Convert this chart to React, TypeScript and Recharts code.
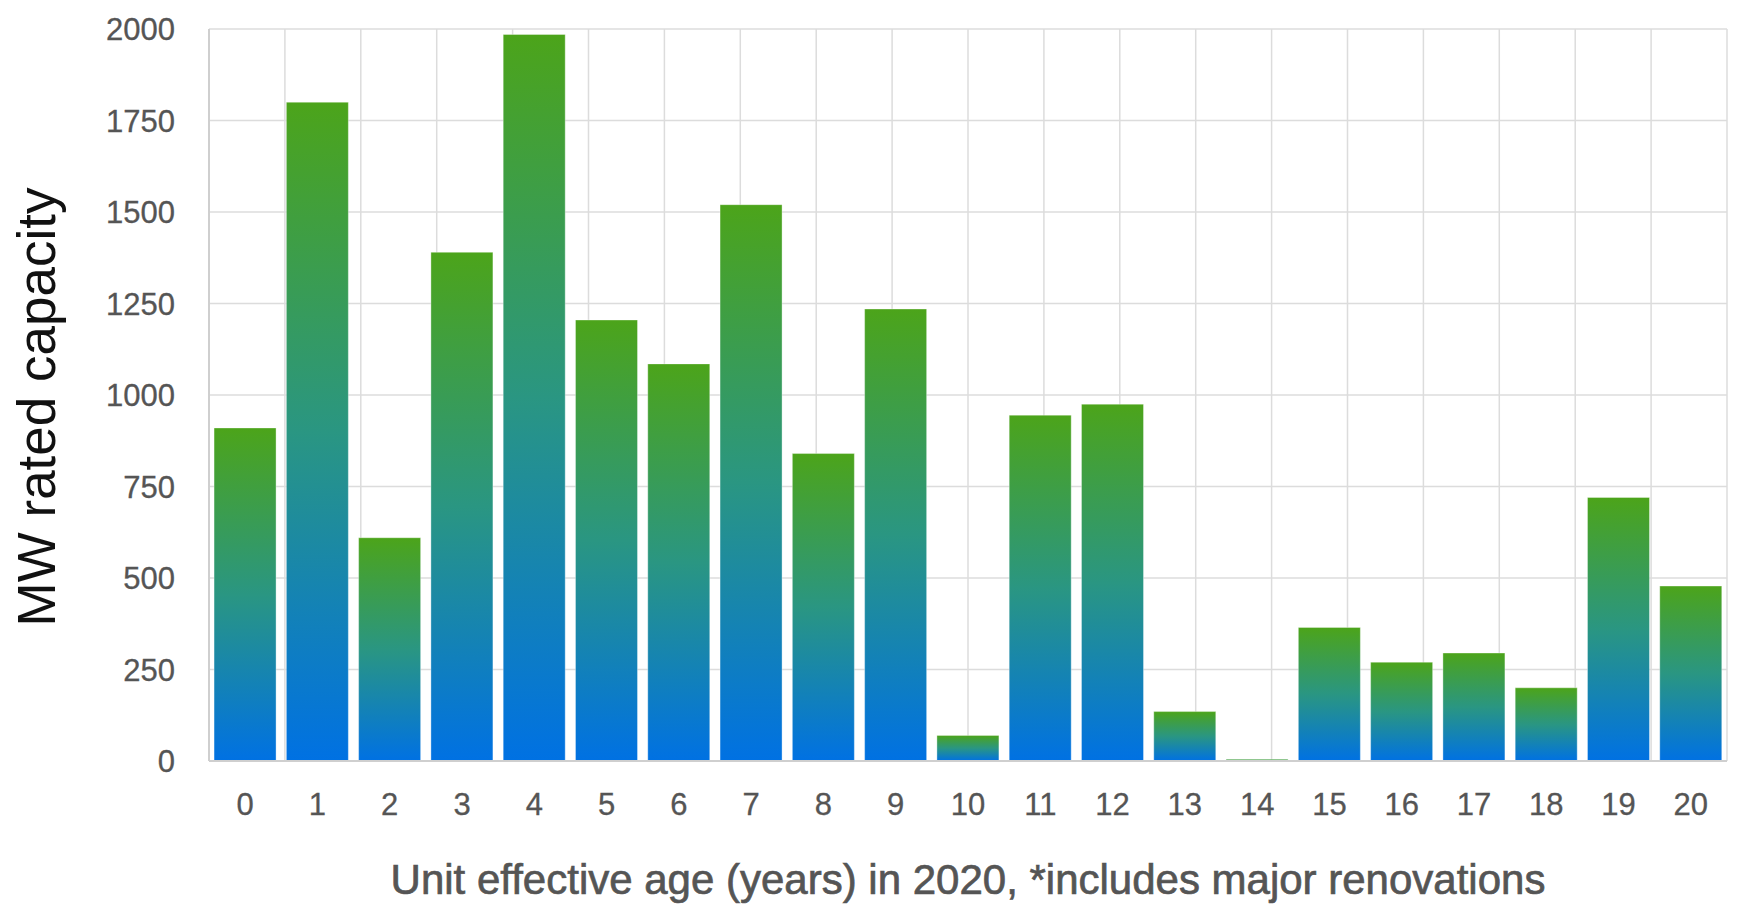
import React from "react";
import { BarChart, Bar, XAxis, YAxis, CartesianGrid } from "recharts";

// unit effective age in 2020 (years)
const ages = ["0", "1", "2", "3", "4", "5", "6", "7", "8", "9", "10", "11", "12", "13", "14", "15", "16", "17", "18", "19", "20"];
// MW rated capacity per age
const capacity = [910, 1800, 610, 1390, 1985, 1205, 1085, 1520, 840, 1235, 70, 945, 975, 135, 5, 365, 270, 295, 200, 720, 478];
const yTicks = [0, 250, 500, 750, 1000, 1250, 1500, 1750, 2000];
// category edges, used only for the vertical grid lines
const edges = ages.map((_, i) => i).concat([ages.length]);

const data = ages.map((age, i) => ({ age, value: capacity[i] }));

const font = "'Liberation Sans', Arial, Helvetica, sans-serif";

export default function App() {
  return (
    <div style={{ position: "absolute", left: 0, top: 0, background: "#fff" }}>
      <BarChart
        width={1739}
        height={914}
        data={data}
        margin={{ top: 29, right: 12, left: 0, bottom: 0 }}
        barCategoryGap="7%"
      >
        <defs>
          <linearGradient id="barFill" x1="0" y1="0" x2="0" y2="1">
            <stop offset="0%" stopColor="#4ca41a" />
            <stop offset="50%" stopColor="#2a9682" />
            <stop offset="100%" stopColor="#0071e3" />
          </linearGradient>
        </defs>
        <XAxis
          xAxisId="grid"
          type="number"
          domain={[0, ages.length]}
          ticks={edges}
          hide
        />
        <CartesianGrid xAxisId="grid" stroke="#dcdcdc" strokeWidth={1.5} />
        <XAxis
          dataKey="age"
          height={153}
          tickLine={false}
          tickSize={0}
          tickMargin={32}
          axisLine={{ stroke: "#cfcfcf", strokeWidth: 2 }}
          tick={{ fill: "#555", fontSize: 31, fontFamily: font, stroke: "#555", strokeWidth: 0.3 }}
          interval={0}
          label={{
            value: "Unit effective age (years) in 2020, *includes major renovations",
            position: "insideBottom",
            offset: 20,
            style: { fill: "#555", fontSize: 42, fontFamily: font, stroke: "#555", strokeWidth: 0.7 },
          }}
        />
        <YAxis
          width={209}
          domain={[0, 2000]}
          ticks={yTicks}
          tickLine={false}
          tickSize={0}
          tickMargin={34}
          axisLine={{ stroke: "#cfcfcf", strokeWidth: 2 }}
          tick={{ fill: "#555", fontSize: 31, fontFamily: font, stroke: "#555", strokeWidth: 0.3 }}
          label={{
            value: "MW rated capacity",
            angle: -90,
            position: "insideLeft",
            offset: 36,
            dy: 12,
            style: { fill: "#111", fontSize: 53, fontFamily: font, textAnchor: "middle" },
          }}
        />
        <Bar
          dataKey="value"
          fill="url(#barFill)"
          stroke="rgba(255,255,255,0.35)"
          strokeWidth={1}
          isAnimationActive={false}
        />
      </BarChart>
    </div>
  );
}
